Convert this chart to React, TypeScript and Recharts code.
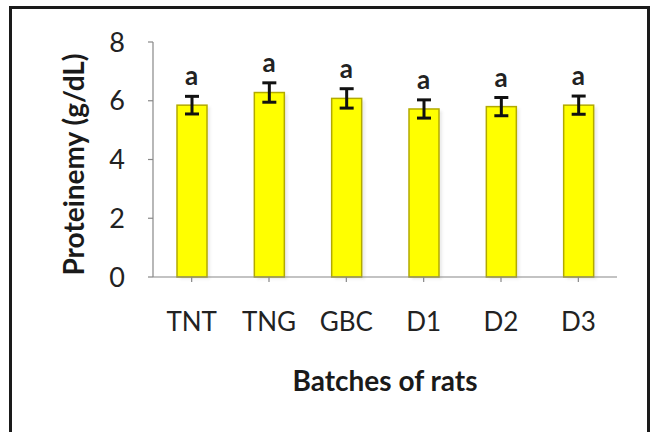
import React from "react";
import { ComposedChart, Bar, Line, XAxis, YAxis, ErrorBar, LabelList, Label } from "recharts";

const categories = ["TNT", "TNG", "GBC", "D1", "D2", "D3"];
const means = [5.85, 6.28, 6.08, 5.72, 5.8, 5.85];
const errors = [0.3, 0.33, 0.33, 0.31, 0.31, 0.31];
const letters = ["a", "a", "a", "a", "a", "a"];
const yTicks = [0, 2, 4, 6, 8];

const data = categories.map((c, i) => ({
  name: c,
  value: means[i],
  err: errors[i],
  top: means[i] + errors[i],
  letter: letters[i],
}));

const FONT = "Lato, 'Open Sans', sans-serif";

const BarShape = (props: any) => {
  const { x, y, width, height } = props;
  return (
    <g>
      <rect x={x + 3} y={y + 2} width={width} height={height} fill="#cfcfcf" opacity={0.45} filter="url(#blur)" />
      <rect x={x} y={y} width={width} height={height} fill="#FFFF00" stroke="#b2aa00" strokeWidth={1.5} />
    </g>
  );
};

const YTitle = (props: any) => {
  const vb = props.viewBox || {};
  const cx = 73;
  const cy = vb.y + vb.height / 2 + 5;
  return (
    <text
      x={cx}
      y={cy}
      transform={`rotate(-90 ${cx} ${cy})`}
      textAnchor="middle"
      dominantBaseline="central"
      fontFamily={FONT}
      fontWeight="bold"
      fontSize={28}
      fill="#1a1a1a"
    >
      Proteinemy (g/dL)
    </text>
  );
};

const XTitle = (props: any) => {
  const vb = props.viewBox || {};
  const cx = vb.x + vb.width / 2;
  const cy = vb.y + 114;
  return (
    <text x={cx} y={cy} textAnchor="middle" fontFamily={FONT} fontWeight="bold" fontSize={28} fill="#1a1a1a">
      Batches of rats
    </text>
  );
};

export default function App() {
  return (
    <div style={{ position: "absolute", left: 0, top: 0, width: 652, height: 432, overflow: "hidden", background: "#fff" }}>
      <div
        style={{
          position: "absolute",
          left: 9,
          top: 6,
          width: 635,
          height: 500,
          border: "3px solid #1a1a1a",
          boxSizing: "content-box",
        }}
      />
      <div style={{ position: "absolute", left: 0, top: 0 }}>
        <ComposedChart width={652} height={432} data={data} margin={{ top: 42, right: 35, bottom: 0, left: 0 }}>
          <defs>
            <filter id="blur" x="-20%" y="-20%" width="140%" height="140%">
              <feGaussianBlur stdDeviation="1.5" />
            </filter>
          </defs>
          <XAxis
            dataKey="name"
            height={155}
            tickSize={5}
            tickMargin={31}
            axisLine={{ stroke: "#888888", strokeWidth: 1.2 }}
            tickLine={{ stroke: "#888888", strokeWidth: 1.2 }}
            tick={{ fontFamily: FONT, fontSize: 26, fill: "#222" }}
            interval={0}
          >
            <Label content={<XTitle />} />
          </XAxis>
          <YAxis
            width={153}
            domain={[0, 8]}
            ticks={yTicks}
            tickSize={5}
            tickMargin={23}
            axisLine={{ stroke: "#888888", strokeWidth: 1.2 }}
            tickLine={{ stroke: "#888888", strokeWidth: 1.2 }}
            tick={{ fontFamily: FONT, fontSize: 27, fill: "#222" }}
          >
            <Label content={<YTitle />} />
          </YAxis>
          <Bar dataKey="value" barSize={30} shape={<BarShape />} isAnimationActive={false}>
            <ErrorBar dataKey="err" width={7} strokeWidth={3} stroke="#111" direction="y" isAnimationActive={false} />
          </Bar>
          <Line dataKey="top" stroke="none" dot={false} activeDot={false} isAnimationActive={false}>
            <LabelList
              dataKey="letter"
              position="top"
              offset={11}
              style={{ fontFamily: FONT, fontWeight: "bold", fontSize: 26, fill: "#222" }}
            />
          </Line>
        </ComposedChart>
      </div>
    </div>
  );
}
